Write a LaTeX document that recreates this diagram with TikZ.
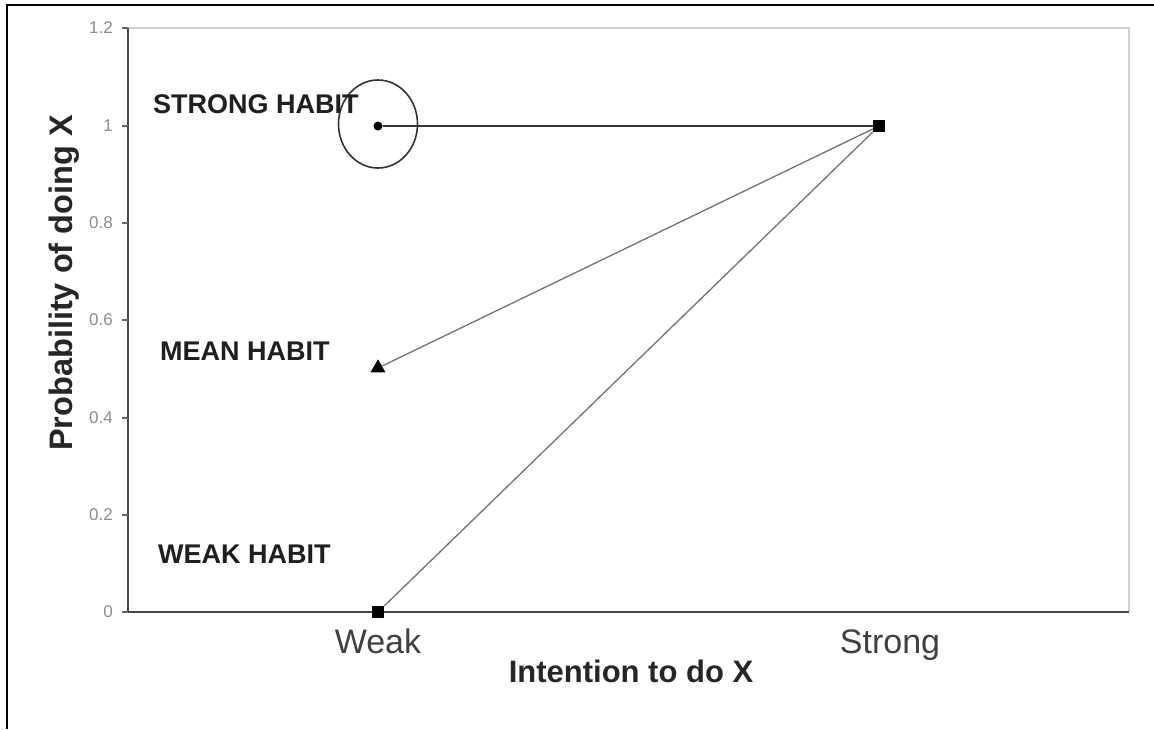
\documentclass[tikz,border=0pt]{standalone}
\usepackage{fontspec}
\setmainfont{Liberation Sans}
\usetikzlibrary{shapes.geometric}
\begin{document}
\begin{tikzpicture}[x=1pt,y=-1pt,
  frameline/.style={line width=2.6pt,black},
  axisline/.style={line width=2pt,black!72},
  borderline/.style={line width=2pt,black!18},
  tickline/.style={line width=1.2pt,black!60},
  ticklabel/.style={anchor=east,text=black!45,font=\fontsize{17}{17}\selectfont,inner sep=0pt},
  habit/.style={anchor=base west,inner sep=0pt,font=\bfseries\fontsize{27}{28}\selectfont,text=black!88},
  catlabel/.style={anchor=base,inner sep=0pt,font=\fontsize{34}{36}\selectfont,text=black!75},
  axistitle/.style={anchor=base,inner sep=0pt,font=\bfseries\fontsize{31}{33}\selectfont,text=black!85},
  sqmark/.style={rectangle,fill=black,minimum size=12pt,inner sep=0pt},
  dotmark/.style={circle,fill=black,minimum size=9pt,inner sep=0pt},
  trimark/.style={isosceles triangle,isosceles triangle apex angle=60,shape border rotate=90,fill=black,minimum size=13pt,inner sep=0pt},
  solidlink/.style={line width=1.8pt,black!80},
  thinlink/.style={line width=1.3pt,black!55}]
\useasboundingbox (0,0) rectangle (1154,729);
\fill[white] (0,0) rectangle (1154,729);

% outer frame
\draw[frameline] (7,729) -- (7,5) -- (1154,5);

% plot area
\draw[borderline] (128,28) -- (1129,28) -- (1129,612);
\draw[axisline] (128,612) -- (1129,612);
\draw[axisline] (128,28) -- (128,612);

% y ticks and labels
\foreach \v/\yy in {0/612,0.2/515,0.4/418,0.6/320,0.8/223,1/126,1.2/28}{
  \draw[tickline] (122,\yy) -- (128,\yy);
  \node[ticklabel] at (113,\yy) {\v};
}

% data points
\node[dotmark] (sh) at (378,126) {};
\node[draw,ellipse,line width=1.6pt,black!80,minimum width=79pt,minimum height=88pt,inner sep=0pt] (ring) at (378,124) {};
\node[sqmark] (ss) at (879,126) {};
\node[trimark] (mh) at (378,368) {};
\node[sqmark] (wh) at (378,612) {};

% connecting lines
\draw[solidlink] (sh) -- (ss);
\draw[thinlink] (mh) -- (ss);
\draw[thinlink] (wh) -- (ss);

% series labels
\node[habit] (lstrong) at (153,113) {STRONG HABIT};
\node[habit] (lmean) at (160,360) {MEAN HABIT};
\node[habit] (lweak) at (158,563) {WEAK HABIT};

% category labels
\node[catlabel] (cweak) at (378,653) {Weak};
\node[catlabel] (cstrong) at (890,653) {Strong};

% axis titles
\node[axistitle] (xt) at (631,682) {Intention to do X};
\node[axistitle,font=\bfseries\fontsize{32.5}{34}\selectfont,rotate=90] (yt) at (72,283) {Probability of doing X};
\end{tikzpicture}
\end{document}
